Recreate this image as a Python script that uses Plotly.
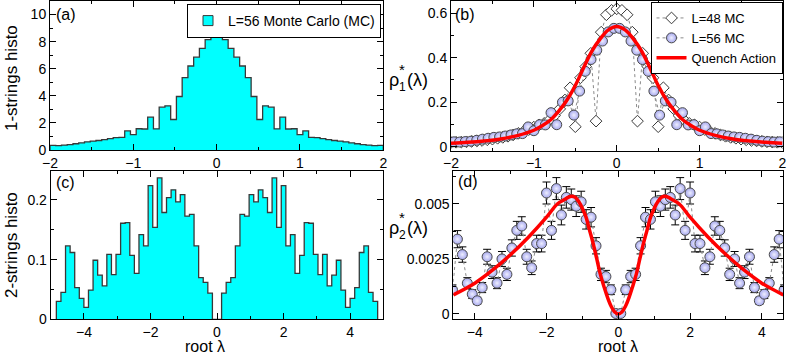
import numpy as np
import plotly.graph_objects as go

W, H = 789, 355

# ---- (a) 1-strings histogram, L=56 MC (58 bins on [-2, 2])
lam1_edges = np.linspace(-2, 2, 59)
hist1 = [0.34, 0.33, 0.36, 0.40, 0.46, 0.53, 0.60, 0.66, 0.70, 0.76, 0.84, 0.92, 0.93, 1.41, 1.13,
         1.57, 1.55, 2.42, 1.56, 3.16, 3.26, 2.25, 3.95, 5.35, 6.20, 6.85, 7.50, 8.15, 8.40,
         8.40, 8.15, 7.50, 6.85, 6.20, 5.35, 3.95, 2.25, 3.26, 3.16, 1.56, 2.42, 1.55, 1.57,
         1.13, 1.41, 0.93, 0.92, 0.84, 0.76, 0.70, 0.66, 0.60, 0.53, 0.46, 0.40, 0.36, 0.33, 0.34]

# ---- (b) rho_1 density
lam1_L56 = (lam1_edges[:-1] + lam1_edges[1:]) / 2
rho1_L56 = [0.022, 0.021, 0.023, 0.025, 0.029, 0.034, 0.038, 0.042, 0.044, 0.048, 0.053, 0.058, 0.059,
            0.089, 0.072, 0.099, 0.098, 0.153, 0.099, 0.200, 0.206, 0.142, 0.250, 0.339, 0.392, 0.434,
            0.475, 0.516, 0.532,
            0.532, 0.516, 0.475, 0.434, 0.392, 0.339, 0.250, 0.142, 0.206, 0.200, 0.099, 0.153, 0.098,
            0.099, 0.072, 0.089, 0.059, 0.058, 0.053, 0.048, 0.044, 0.042, 0.038, 0.034, 0.029, 0.025,
            0.023, 0.021, 0.022]
lam1_L48 = np.linspace(-2, 2, 65)
rho1_L48 = [0.019, 0.020, 0.021, 0.022, 0.024, 0.026, 0.028, 0.031, 0.034, 0.038, 0.042, 0.047, 0.053,
            0.060, 0.068, 0.077, 0.088, 0.098, 0.105, 0.120, 0.140, 0.170, 0.210, 0.265, 0.090, 0.310,
            0.360, 0.420, 0.115, 0.515, 0.593, 0.613,
            0.620,
            0.613, 0.593, 0.515, 0.115, 0.420, 0.360, 0.310, 0.090, 0.265, 0.210, 0.170, 0.140, 0.120,
            0.105, 0.098, 0.088, 0.077, 0.068, 0.060, 0.053, 0.047, 0.042, 0.038, 0.034, 0.031, 0.028,
            0.026, 0.024, 0.022, 0.021, 0.020, 0.019]
lam_qa1 = [-2, -1.8, -1.6, -1.4, -1.2, -1.0, -0.9, -0.8, -0.7, -0.6, -0.5, -0.4, -0.3, -0.2, -0.1, 0,
           0.1, 0.2, 0.3, 0.4, 0.5, 0.6, 0.7, 0.8, 0.9, 1.0, 1.2, 1.4, 1.6, 1.8, 2.0]
rho1_qa = [0.016, 0.020, 0.026, 0.035, 0.050, 0.074, 0.094, 0.120, 0.160, 0.210, 0.275, 0.355, 0.430,
           0.485, 0.525, 0.540, 0.525, 0.485, 0.430, 0.355, 0.275, 0.210, 0.160, 0.120, 0.094, 0.074,
           0.050, 0.035, 0.026, 0.020, 0.016]

# ---- (c) 2-strings histogram (70 bins on [-4.83, 4.83])
lam2_edges = np.linspace(-4.83, 4.83, 71)
hist2 = [0.030, 0.045, 0.123, 0.112, 0.053, 0.035, 0.020, 0.049, 0.099, 0.074, 0.056, 0.109, 0.075,
         0.109, 0.161, 0.162, 0.107, 0.077, 0.142, 0.123, 0.224, 0.154, 0.237, 0.179, 0.204, 0.217,
         0.197, 0.209, 0.173, 0.176, 0.123, 0.070, 0.062, 0.044, 0.0,
         0.0, 0.044, 0.062, 0.070, 0.123, 0.176, 0.173, 0.209, 0.197, 0.217, 0.204, 0.179, 0.237,
         0.154, 0.224, 0.123, 0.142, 0.077, 0.107, 0.162, 0.161, 0.109, 0.075, 0.109, 0.056, 0.074,
         0.099, 0.049, 0.020, 0.035, 0.053, 0.112, 0.123, 0.045, 0.030]

# ---- (d) rho_2 density
lam2_L56 = (lam2_edges[:-1] + lam2_edges[1:]) / 2
rho2_L56 = [0.0007, 0.0011, 0.0034, 0.0027, 0.0014, 0.0009, 0.0006, 0.0012, 0.0026, 0.0019, 0.0014,
            0.0025, 0.0018, 0.0030, 0.0038, 0.0040, 0.0026, 0.0021, 0.0032, 0.0032, 0.0055, 0.0038,
            0.0057, 0.0045, 0.0053, 0.0052, 0.0049, 0.0051, 0.0043, 0.0044, 0.0031, 0.0018, 0.0017,
            0.0011, 0.00002,
            0.00002, 0.0011, 0.0017, 0.0018, 0.0031, 0.0044, 0.0043, 0.0051, 0.0049, 0.0052, 0.0053,
            0.0045, 0.0057, 0.0038, 0.0055, 0.0032, 0.0032, 0.0021, 0.0026, 0.0040, 0.0038, 0.0030,
            0.0018, 0.0025, 0.0014, 0.0019, 0.0026, 0.0012, 0.0006, 0.0009, 0.0014, 0.0027, 0.0034,
            0.0011, 0.0007]
rho2_err = [0.00018, 0.00022, 0.00039, 0.00035, 0.00025, 0.00020, 0.00016, 0.00023, 0.00034, 0.00029,
            0.00025, 0.00034, 0.00028, 0.00037, 0.00041, 0.00042, 0.00034, 0.00031, 0.00038, 0.00038,
            0.00050, 0.00041, 0.00050, 0.00045, 0.00049, 0.00048, 0.00047, 0.00048, 0.00044, 0.00044,
            0.00037, 0.00028, 0.00028, 0.00022, 0.00003,
            0.00003, 0.00022, 0.00028, 0.00028, 0.00037, 0.00044, 0.00044, 0.00048, 0.00047, 0.00048,
            0.00049, 0.00045, 0.00050, 0.00041, 0.00050, 0.00038, 0.00038, 0.00031, 0.00034, 0.00042,
            0.00041, 0.00037, 0.00028, 0.00034, 0.00025, 0.00029, 0.00034, 0.00023, 0.00016, 0.00020,
            0.00025, 0.00035, 0.00039, 0.00022, 0.00018]
lam_qa2 = [-4.6, -4.0, -3.5, -3.0, -2.5, -2.0, -1.7, -1.5, -1.4, -1.3, -1.2, -1.1, -1.0, -0.9, -0.8,
           -0.7, -0.6, -0.5, -0.4, -0.3, -0.2, -0.1, 0, 0.1, 0.2, 0.3, 0.4, 0.5, 0.6, 0.7, 0.8, 0.9,
           1.0, 1.1, 1.2, 1.3, 1.4, 1.5, 1.7, 2.0, 2.5, 3.0, 3.5, 4.0, 4.6]
rho2_qa = [0.00087, 0.0014, 0.0020, 0.0027, 0.0035, 0.0044, 0.0050, 0.0052, 0.0053, 0.00535, 0.0053,
           0.0051, 0.0048, 0.0044, 0.0038, 0.0032, 0.0025, 0.0018, 0.00125, 0.00075, 0.00035, 0.00009,
           0.0, 0.00009, 0.00035, 0.00075, 0.00125, 0.0018, 0.0025, 0.0032, 0.0038, 0.0044, 0.0048,
           0.0051, 0.0053, 0.00535, 0.0053, 0.0052, 0.0050, 0.0044, 0.0035, 0.0027, 0.0020, 0.0014,
           0.00087]


def steps(edges, vals):
    # closed step outline for a filled histogram
    xs = [edges[0]] + list(edges) + [edges[-1]]
    ys = [0] + list(vals) + [vals[-1], 0]
    return xs, ys


def px(x, y):
    return x / W, 1 - y / H


CYAN = "#00ffff"
EDGE = "#383838"
CIRC = "#a6a8ee"

fig = go.Figure()

# (a)
hx, hy = steps(lam1_edges, hist1)
fig.add_trace(go.Scatter(x=hx, y=hy, mode="lines", line=dict(shape="hv", color=EDGE, width=1.3),
                         fill="tozeroy", fillcolor=CYAN, showlegend=False, xaxis="x", yaxis="y"))
fig.add_trace(go.Scatter(x=[None], y=[None], mode="markers", name="L=56 Monte Carlo (MC)",
                         marker=dict(symbol="square", size=10, color=CYAN, line=dict(color=EDGE, width=1)),
                         legend="legend", xaxis="x", yaxis="y"))

# (b)
fig.add_trace(go.Scatter(x=lam1_L48, y=rho1_L48, mode="lines+markers", name="L=48 MC",
                         line=dict(color="#8a8a8a", width=1, dash="dot"),
                         marker=dict(symbol="diamond", size=9, color="white", line=dict(color=EDGE, width=1)),
                         legend="legend2", xaxis="x2", yaxis="y2"))
fig.add_trace(go.Scatter(x=lam1_L56, y=rho1_L56, mode="lines+markers", name="L=56 MC",
                         line=dict(color="#8a8a8a", width=1, dash="dot"),
                         marker=dict(symbol="circle", size=10, color=CIRC,
                                     gradient=dict(type="radial", color="#eeeeff"),
                                     line=dict(color="#4a4a4a", width=1)),
                         legend="legend2", xaxis="x2", yaxis="y2"))
fig.add_trace(go.Scatter(x=lam_qa1, y=rho1_qa, mode="lines", name="Quench Action",
                         line=dict(color="#ff0000", width=3.5, shape="spline"),
                         legend="legend2", xaxis="x2", yaxis="y2"))

# (c)
hx2, hy2 = steps(lam2_edges, hist2)
fig.add_trace(go.Scatter(x=hx2, y=hy2, mode="lines", line=dict(shape="hv", color=EDGE, width=1.3),
                         fill="tozeroy", fillcolor=CYAN, showlegend=False, xaxis="x3", yaxis="y3"))

# (d)
fig.add_trace(go.Scatter(x=lam2_L56, y=rho2_L56, mode="lines+markers", showlegend=False,
                         line=dict(color="#8a8a8a", width=1, dash="dot"),
                         error_y=dict(type="data", array=rho2_err, color="black", thickness=1, width=4),
                         marker=dict(symbol="circle", size=10, color=CIRC,
                                     gradient=dict(type="radial", color="#eeeeff"),
                                     line=dict(color="#4a4a4a", width=1)),
                         xaxis="x4", yaxis="y4"))
fig.add_trace(go.Scatter(x=lam_qa2, y=rho2_qa, mode="lines", showlegend=False,
                         line=dict(color="#ff0000", width=3.5, shape="spline"),
                         xaxis="x4", yaxis="y4"))


def axis(domain, rng, dtick, minor, anchor, **kw):
    return dict(domain=domain, range=rng, dtick=dtick, anchor=anchor, automargin=False,
                showline=True, linecolor="black", linewidth=1, mirror="allticks", ticks="inside",
                ticklen=6, tickwidth=1, tickcolor="black", showgrid=False, zeroline=False,
                tickfont=dict(size=14, color="black"),
                minor=dict(dtick=minor, ticks="inside", ticklen=3, tickcolor="black", showgrid=False),
                **kw)


fig.update_layout(
    width=W, height=H, margin=dict(l=0, r=0, t=0, b=0),
    paper_bgcolor="white", plot_bgcolor="white",
    font=dict(family="Liberation Sans, Arial, sans-serif", color="black"),
    xaxis=axis([50 / W, 383.3 / W], [-2, 2], 1, 0.5, "y"),
    yaxis=axis([1 - 150 / H, 1 - 1 / H], [0, 11], 2, 1, "x"),
    xaxis2=axis([451 / W, 782.5 / W], [-2, 2], 1, 0.5, "y2"),
    yaxis2=axis([1 - 150.5 / H, 1 - 1 / H], [-0.017, 0.655], 0.2, 0.1, "x2"),
    xaxis3=axis([50.7 / W, 383.3 / W], [-5, 5], 2, 1, "y3"),
    yaxis3=axis([1 - 319.3 / H, 1 - 171 / H], [0, 0.2486], 0.1, 0.05, "x3"),
    xaxis4=axis([453.3 / W, 783.3 / W], [-4.6, 4.6], 2, 1, "y4"),
    yaxis4=axis([1 - 319 / H, 1 - 171 / H], [-0.00023, 0.0065], 0.0025, 0.00125, "x4",
                tickvals=[0, 0.0025, 0.005], ticktext=["0", "0.0025", "0.005"]),
    legend=dict(x=381 / W, xanchor="right", y=1 - 4 / H, yanchor="top", bgcolor="white",
                bordercolor="black", borderwidth=1, font=dict(size=14), itemwidth=30, tracegroupgap=0),
    legend2=dict(x=782.5 / W, xanchor="right", y=1 - 2 / H, yanchor="top", bgcolor="white",
                 bordercolor="black", borderwidth=1, font=dict(size=13), itemwidth=30, tracegroupgap=0),
)

labels = [
    ("(a)", 66, 15, 16, 0), ("(b)", 465, 15, 16, 0), ("(c)", 65, 182, 16, 0), ("(d)", 468, 181, 16, 0),
    ("1-strings histo", 11, 78, 17, -90), ("2-strings histo", 11, 245, 17, -90),
    ("root λ", 205, 346, 16, 0), ("root λ", 618, 346, 16, 0),
    ("ρ", 394, 80, 18, 0), ("*", 402, 70, 15, 0), ("1", 402, 87, 12, 0), ("(λ)", 417, 80, 18, 0),
    ("ρ", 394, 228, 18, 0), ("*", 402, 218, 15, 0), ("2", 402, 235, 12, 0), ("(λ)", 417, 228, 18, 0),
]
for text, x, y, size, angle in labels:
    ax_, ay_ = px(x, y)
    fig.add_annotation(text=text, x=ax_, y=ay_, xref="paper", yref="paper", showarrow=False,
                       xanchor="center", yanchor="middle", textangle=angle, font=dict(size=size))

# the page body has a default 8px margin; drop it so the figure sits at the window origin
fig.write_html("out.html", config={"displayModeBar": False},
               post_script="document.body.style.margin='0';")
